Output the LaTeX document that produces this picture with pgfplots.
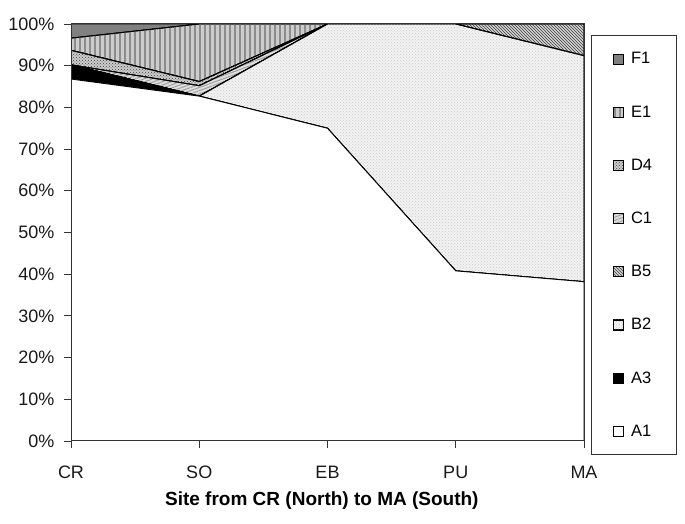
\documentclass[border=0pt]{standalone}
\usepackage{fontspec}
\setmainfont{Liberation Sans}
\usepackage{pgfplots}
\usepackage{pgfplotstable}
\pgfplotsset{compat=1.18}
\usetikzlibrary{patterns,patterns.meta}

\pgfplotstableread{
x A1 A3 B2 B5 C1 D4 E1 F1
0 86.8 3.4 0 0 0 3.5 2.9 3.4
1 82.7 0 0 0 2.5 1.0 13.8 0
2 75 0 25 0 0 0 0 0
3 40.8 0 59.2 0 0 0 0 0
4 38.2 0 54.2 7.6 0 0 0 0
}\sitedata

\begin{document}
\begin{tikzpicture}[x=1pt,y=1pt]
\useasboundingbox (0,0) rectangle (685,524);
\begin{axis}[
  at={(71pt,83pt)}, anchor=south west,
  width=513pt, height=417pt, scale only axis,
  xmin=0, xmax=4, ymin=0, ymax=100,
  stack plots=y, area style,
  xtick={0,1,2,3,4}, xticklabels={CR,SO,EB,PU,MA},
  ytick={0,10,...,100},
  yticklabel={\pgfmathprintnumber{\tick}\%},
  /pgf/number format/assume math mode=true,
  tick label style={font=\fontsize{18}{20}\selectfont, black!90},
  xticklabel style={text height=13pt, text depth=0pt, yshift=-14pt},
  yticklabel style={xshift=-6pt},
  tick align=outside, tick pos=left, major tick length=7pt,
  every tick/.style={black!80, line width=0.9pt},
  axis line style={black!80, line width=1pt},
  xlabel={\bfseries Site from CR (North) to MA (South)},
  xlabel style={font=\fontsize{19}{21}\selectfont, at={(axis description cs:0.489,-0.142)}, anchor=center},
  legend image code/.code={\draw[#1, line width=0.6pt] (0pt,-5pt) rectangle (10pt,5pt);},
  reverse legend,
  legend cell align=left,
  legend style={at={(1.0136,0.9736)}, anchor=north west, draw=black!80, line width=1pt,
    font=\fontsize{16.5}{18}\selectfont, row sep=36.3pt, inner xsep=22pt, inner ysep=15pt,
    /tikz/every odd column/.append style={column sep=5pt}},
]
\addplot[draw=black, line width=0.9pt, fill=white] table[x=x,y=A1]{\sitedata} \closedcycle;
\addlegendentry{A1}
\addplot[draw=black, line width=0.9pt, fill=black] table[x=x,y=A3]{\sitedata} \closedcycle;
\addlegendentry{A3}
\addplot[draw=black, line width=0.9pt, preaction={fill=gray!10}, pattern=crosshatch dots, pattern color=gray!40] table[x=x,y=B2]{\sitedata} \closedcycle;
\addlegendentry{B2}
\addplot[draw=black, line width=0.9pt, preaction={fill=gray!35}, pattern=north west lines, pattern color=black!75] table[x=x,y=B5]{\sitedata} \closedcycle;
\addlegendentry{B5}
\addplot[draw=black, line width=0.9pt, preaction={fill=gray!25}, pattern={Lines[angle=20,distance=3pt,line width=1pt]}, pattern color=gray!75] table[x=x,y=C1]{\sitedata} \closedcycle;
\addlegendentry{C1}
\addplot[draw=black, line width=0.9pt, preaction={fill=gray!40}, pattern=crosshatch dots, pattern color=black!75] table[x=x,y=D4]{\sitedata} \closedcycle;
\addlegendentry{D4}
\addplot[draw=black, line width=0.9pt, preaction={fill=black!20}, pattern={Lines[angle=90,distance=5pt,line width=2pt]}, pattern color=black!45] table[x=x,y=E1]{\sitedata} \closedcycle;
\addlegendentry{E1}
\addplot[draw=black, line width=0.9pt, fill=black!50] table[x=x,y=F1]{\sitedata} \closedcycle;
\addlegendentry{F1}
\end{axis}
\end{tikzpicture}
\end{document}
